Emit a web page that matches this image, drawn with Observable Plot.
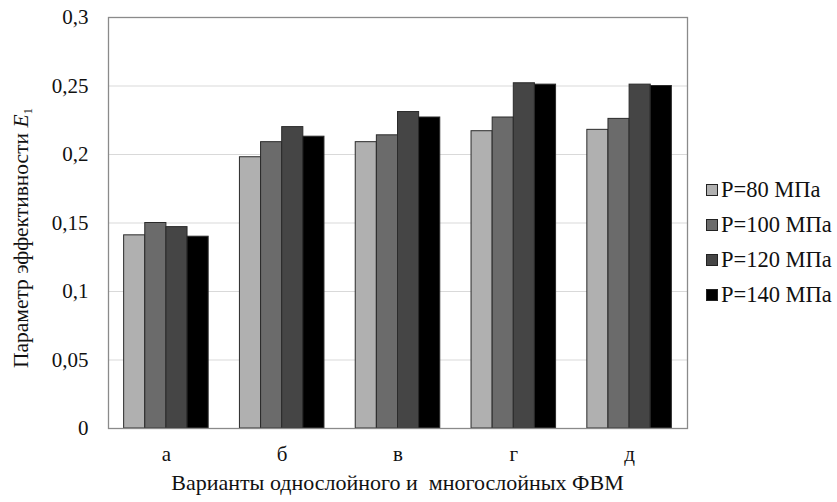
<!DOCTYPE html>
<html><head><meta charset="utf-8">
<script src="https://cdn.jsdelivr.net/npm/d3@7"></script>
<script src="https://cdn.jsdelivr.net/npm/@observablehq/plot@0.6"></script>
<style>
body{margin:0;background:#fff;}
#wrap{position:relative;width:837px;height:502px;font-family:"Liberation Serif","Times New Roman",Tinos,"Noto Serif","DejaVu Serif",serif;}
#legend{position:absolute;left:706px;top:172px;font-size:22.5px;color:#111;}
#legend .it{display:flex;align-items:center;height:35px;}
#legend .sw{width:12px;height:12px;border:1px solid #222;margin-right:3px;box-sizing:border-box;}
svg text{font-family:"Liberation Serif","Times New Roman",Tinos,"Noto Serif","DejaVu Serif",serif !important;}
</style></head>
<body><div id="wrap"><div id="legend"></div></div>
<script>
const categories = ["а","б","в","г","д"];
const series = ["P=80 МПа","P=100 МПа","P=120 МПа","P=140 МПа"];
const colors = ["#b0b0b0","#6b6b6b","#454545","#000000"];
const v80  = [0.141, 0.198, 0.209, 0.217, 0.218];
const v100 = [0.150, 0.209, 0.214, 0.227, 0.226];
const v120 = [0.147, 0.220, 0.231, 0.252, 0.251];
const v140 = [0.140, 0.213, 0.227, 0.251, 0.250];
const yTicks = [0,0.05,0.1,0.15,0.2,0.25,0.3];

const allVals = [v80,v100,v120,v140];
const fmt = d => d===0 ? "0" : String(d).replace(".",",");

const W = 837, ML = 108, MR = 150, PAD = 0.27;
const step = (W - ML - MR) / categories.length;
const q = step * (1 - PAD) / series.length;

const barMarks = series.map((s,j)=>Plot.barY(
  categories.map((c,i)=>({cat:c, ser:s, val:allVals[j][i]})),
  {x:"cat", y:"val", fill:"ser", stroke:"#2a2a2a", strokeWidth:1,
   insetLeft:j*q, insetRight:(series.length-1-j)*q}));

const chart = Plot.plot({
  width:W, height:502,
  marginLeft:ML, marginRight:MR, marginTop:17, marginBottom:74,
  style:{fontSize:"21px", color:"#111", background:"#fff"},
  x:{domain:categories, paddingInner:PAD, paddingOuter:PAD/2, round:false, label:null},
  y:{domain:[0,0.3], ticks:yTicks, label:null},
  color:{domain:series, range:colors},
  marks:[
    Plot.gridY(yTicks,{stroke:"#d9d9d9", strokeOpacity:1}),
    ...barMarks,
    Plot.axisY(yTicks,{tickSize:0, tickPadding:20, tickFormat:fmt, fontSize:21, label:null}),
    Plot.axisX({tickSize:0, tickPadding:18, fontSize:21, label:null}),
    Plot.frame({stroke:"#8a8a8a", strokeWidth:1.3})
  ]
});
document.getElementById("wrap").appendChild(chart);

const svg = d3.select(chart);
const yl = svg.append("text")
  .attr("transform","translate(28,238) rotate(-90)")
  .attr("text-anchor","middle").attr("font-size",21.5).attr("fill","#111");
yl.append("tspan").text("Параметр эффективности ");
yl.append("tspan").attr("font-style","italic").text("E");
yl.append("tspan").attr("font-size",13).attr("dy",4).text("1");
svg.append("text").attr("x",397.5).attr("y",490).attr("text-anchor","middle")
  .attr("font-size",22).attr("fill","#111")
  .attr("xml:space","preserve")
  .text("Варианты однослойного и  многослойных ФВМ");

const lg = document.getElementById("legend");
series.forEach((s,j)=>{
  const it=document.createElement("div");it.className="it";
  const sw=document.createElement("div");sw.className="sw";sw.style.background=colors[j];
  const t=document.createElement("span");t.textContent=s;
  it.appendChild(sw);it.appendChild(t);lg.appendChild(it);
});
</script></body></html>
